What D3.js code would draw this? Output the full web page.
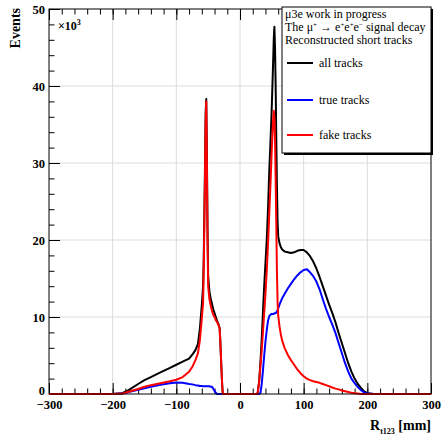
<!DOCTYPE html>
<html lang="en">
<head>
<meta charset="UTF-8">
<title>R_t123 short tracks</title>
<script src="https://d3js.org/d3.v7.min.js"></script>
<style>
  body { margin: 0; background: #fff; }
  svg { display: block; }
  svg text { font-family: "Liberation Serif", "DejaVu Serif", serif; }
  .axis path { display: none; }
  .axis line { stroke: #000; }
  .axis text { font-family: "Liberation Serif", serif; font-weight: bold; font-size: 12.5px; fill: #000; }
</style>
</head>
<body>
<div id="chart"></div>
<script>
// R_t123 [mm] sample positions, values in units of 10^3 events
const rValues = [-300,-200,-185,-175,-160,-150,-140,-125,-110,-100,-90,-80,-75,-70,-66,-63,-60,-58,-57,-56,-55,-54,-53,-52,-51,-50,-48,-46,-44,-42,-40,-38,-36,-34,-32,-31,-30,-29,-28,-27,
  27,28,30,32,34,36,38,40,42,44,46,48,50,52,53,54,55,56,57,58,59,60,62,64,66,70,75,80,85,90,95,100,105,110,115,120,125,130,135,140,145,150,155,160,165,170,175,180,185,190,195,200,210,300];

const allTracks = [0,0,0.1,0.5,1.3,1.8,2.2,2.8,3.4,3.8,4.2,4.6,5.1,5.7,6.5,8.5,11.5,14,17.5,23.5,29.5,36.5,38.3,31.5,21.5,15.3,13.3,12.4,11.7,11.0,10.5,10.0,9.5,9.1,8.6,7.0,5.0,3.0,1.2,0,
  0,0.3,1.6,4.0,7.0,10.5,14.0,17.0,20.0,24.0,29.0,33.0,37.5,43.0,46.0,47.7,45.0,40.0,33.0,27.0,22.5,20.5,19.6,19.1,18.8,18.5,18.4,18.3,18.4,18.6,18.7,18.7,18.4,17.9,17.2,16.3,15.2,14.0,12.8,11.6,10.5,9.3,7.9,6.6,5.3,4.0,2.9,2.0,1.3,0.8,0.35,0.1,0,0];

const trueTracks = [0,0,0.05,0.25,0.55,0.75,0.95,1.2,1.4,1.5,1.45,1.3,1.25,1.15,1.1,1.05,1.05,1.0,1.0,1.0,1.0,1.0,1.0,1.0,1.0,1.0,1.0,0.95,0.95,0.7,0.4,0.15,0,0,0,0,0,0,0,0,
  0,0,0,0.1,1.2,3.0,5.0,6.8,8.3,9.5,10.1,10.3,10.4,10.4,10.4,10.5,10.5,10.5,10.6,10.7,10.9,11.1,11.6,12.0,12.4,13.0,13.7,14.3,14.9,15.4,15.8,16.1,16.2,15.8,15.3,14.6,13.6,12.3,11.1,10.0,9.0,7.9,6.6,5.3,4.0,2.9,2.0,1.4,0.9,0.5,0.2,0.05,0,0];

const fakeTracks = [0,0,0.05,0.3,0.65,0.95,1.15,1.4,1.65,1.85,2.2,2.9,3.5,4.4,5.3,7.0,9.8,11.8,16,22,28,35,38,30,20,14,12.3,11.5,10.8,10.3,10.0,9.6,9.3,9.0,8.5,7.0,5.0,3.0,1.2,0,
  0,0.3,1.5,3.5,5.5,8,10.5,13,16,19.5,23.5,27.5,32,35.5,36.8,36.0,33,28,22,16,12,10.2,8.8,7.8,7.0,6.0,5.1,4.4,3.8,3.2,2.7,2.3,2.0,1.8,1.65,1.55,1.45,1.3,1.15,1.0,0.85,0.7,0.6,0.45,0.35,0.25,0.15,0.1,0.05,0,0,0,0,0];

const xTicks = [-300, -200, -100, 0, 100, 200, 300];
const yTicks = [0, 10, 20, 30, 40, 50];
const legendHeader = ["\u03bc3e work in progress", null, "Reconstructed short tracks"];
const seriesNames = ["all tracks", "true tracks", "fake tracks"];
const seriesColors = ["#000000", "#0000ff", "#ff0000"];

const width = 441, height = 437;
const margin = { left: 49, right: 10, top: 9, bottom: 43 };
const innerW = width - margin.left - margin.right;
const innerH = height - margin.top - margin.bottom;

const svg = d3.select("#chart").append("svg")
  .attr("width", width).attr("height", height);

const x = d3.scaleLinear().domain([-300, 300]).range([margin.left, margin.left + innerW]);
const y = d3.scaleLinear().domain([0, 50]).range([margin.top + innerH, margin.top]);

// grid
const grid = svg.append("g").attr("stroke", "#dcdcdc").attr("stroke-width", 1);
grid.selectAll("line.gx").data(xTicks.slice(1, -1)).enter().append("line")
  .attr("x1", d => x(d)).attr("x2", d => x(d))
  .attr("y1", y(0)).attr("y2", y(50));
grid.selectAll("line.gy").data(yTicks.slice(1, -1)).enter().append("line")
  .attr("x1", x(-300)).attr("x2", x(300))
  .attr("y1", d => y(d)).attr("y2", d => y(d));

// minor ticks
const xMinor = d3.range(-300, 301, 20);
const yMinor = d3.range(0, 51, 2);
svg.append("g").attr("class", "axis").attr("transform", `translate(0,${y(0)})`)
  .call(d3.axisBottom(x).tickValues(xMinor).tickSize(-5.5).tickFormat(""));
svg.append("g").attr("class", "axis").attr("transform", `translate(0,${y(50)})`)
  .call(d3.axisTop(x).tickValues(xMinor).tickSize(-5.5).tickFormat(""));
svg.append("g").attr("class", "axis").attr("transform", `translate(${x(-300)},0)`)
  .call(d3.axisLeft(y).tickValues(yMinor).tickSize(-5.5).tickFormat(""));

// major ticks + labels
const fmt = d => d < 0 ? "\u2212" + Math.abs(d) : String(d);
svg.append("g").attr("class", "axis").attr("transform", `translate(0,${y(0)})`)
  .call(d3.axisBottom(x).tickValues(xTicks).tickSize(-11).tickPadding(4).tickFormat(fmt))
  .selectAll("text").attr("dy", "0.71em").attr("y", 6);
svg.append("g").attr("class", "axis").attr("transform", `translate(0,${y(50)})`)
  .call(d3.axisTop(x).tickValues(xTicks).tickSize(-11).tickFormat(""));
svg.append("g").attr("class", "axis").attr("transform", `translate(${x(-300)},0)`)
  .call(d3.axisLeft(y).tickValues(yTicks).tickSize(-11).tickPadding(4).tickFormat(d3.format("d")))
  .selectAll("text").attr("dy", d => d === 0 ? "0.0em" : "0.32em");

// curves
const line = d3.line().x((d, i) => x(rValues[i])).y(d => y(d));
[allTracks, trueTracks, fakeTracks].forEach((s, k) => {
  svg.append("path").datum(s)
    .attr("fill", "none").attr("stroke", seriesColors[k])
    .attr("stroke-width", 2).attr("stroke-linejoin", "round")
    .attr("d", line);
});

// frame
svg.append("rect").attr("x", x(-300)).attr("y", y(50))
  .attr("width", innerW).attr("height", innerH)
  .attr("fill", "none").attr("stroke", "#000").attr("stroke-width", 1);

// axis titles
svg.append("text").attr("transform", `translate(20,${margin.top - 1}) rotate(-90)`)
  .attr("text-anchor", "end").attr("font-weight", "bold").attr("font-size", 14)
  .text("Events");
const xt = svg.append("text").attr("x", x(300)).attr("y", 430)
  .attr("text-anchor", "end").attr("font-weight", "bold").attr("font-size", 14);
xt.append("tspan").text("R");
xt.append("tspan").attr("font-size", 8).attr("dy", 4).text("t123");
xt.append("tspan").attr("dy", -4).text(" [mm]");

const mult = svg.append("text").attr("x", 58).attr("y", 30)
  .attr("font-weight", "bold").attr("font-size", 12);
mult.append("tspan").text("\u00d710");
mult.append("tspan").attr("font-size", 8).attr("dy", -5).text("3");

// legend
const lx = 282, ly = 7, lw = 149, lh = 146;
svg.append("rect").attr("x", lx + 2).attr("y", ly + 2).attr("width", lw).attr("height", lh)
  .attr("fill", "#000");
svg.append("rect").attr("x", lx).attr("y", ly).attr("width", lw).attr("height", lh)
  .attr("fill", "#fff").attr("stroke", "#000").attr("stroke-width", 1);
const lg = svg.append("g").attr("font-size", 12)
  .attr("font-family", "'Liberation Serif', serif");
lg.append("text").attr("x", lx + 3).attr("y", 18).text(legendHeader[0]);
const l2 = lg.append("text").attr("x", lx + 3).attr("y", 31);
l2.append("tspan").text("The \u03bc");
l2.append("tspan").attr("font-size", 7).attr("dy", -4).text("+");
l2.append("tspan").attr("dy", 4).text(" \u2192 e");
l2.append("tspan").attr("font-size", 7).attr("dy", -4).text("+");
l2.append("tspan").attr("dy", 4).text("e");
l2.append("tspan").attr("font-size", 7).attr("dy", -4).text("+");
l2.append("tspan").attr("dy", 4).text("e");
l2.append("tspan").attr("font-size", 7).attr("dy", -4).text("\u2212");
l2.append("tspan").attr("dy", 4).text(" signal decay");
lg.append("text").attr("x", lx + 3).attr("y", 44).text(legendHeader[2]);
const entryY = [63, 100, 135];
seriesNames.forEach((n, k) => {
  lg.append("line").attr("x1", 287).attr("x2", 313)
    .attr("y1", entryY[k]).attr("y2", entryY[k])
    .attr("stroke", seriesColors[k]).attr("stroke-width", 2);
  lg.append("text").attr("x", 319).attr("y", entryY[k] + 4).text(n);
});
</script>
</body>
</html>
